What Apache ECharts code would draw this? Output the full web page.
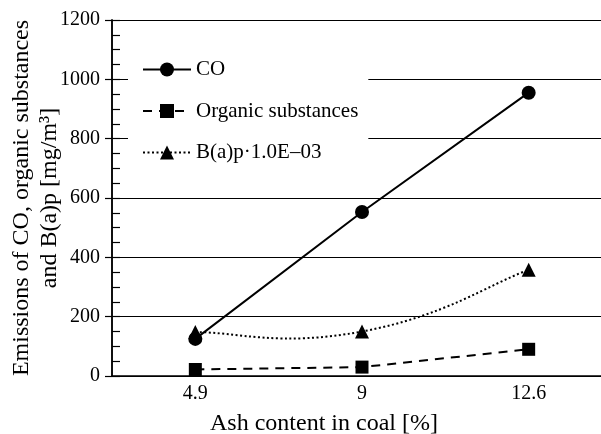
<!DOCTYPE html>
<html>
<head>
<meta charset="utf-8">
<script src="https://cdn.jsdelivr.net/npm/echarts@6/dist/echarts.min.js"></script>
<style>html,body{margin:0;padding:0;background:#fff}#c{width:601px;height:434px}</style>
</head>
<body>
<div id="c"></div>
<script>
var categories = ['4.9', '9', '12.6'];
var coValues = [125, 553, 955];
var organicValues = [22, 30, 90];
var bapValues = [148, 150, 358];
var seriesNames = ['CO', 'Organic substances', 'B(a)p\u00b71.0E\u201303'];
var yTitle = 'Emissions of CO, organic substances\nand B(a)p [mg/m\u00b3]';
var xTitle = 'Ash content in coal [%]';

var FONT = "'Liberation Serif', 'Times New Roman', serif";
var DOT = [2, 2.5];
var chart = echarts.init(document.getElementById('c'), null, {renderer: 'canvas'});

function renderBapCurve(params, api) {
  if (params.dataIndex !== 0) return null;
  var pts = bapValues.map(function (v, i) { return api.coord([i, v]); });
  var k = 0.25;
  var path = 'M' + pts[0][0] + ' ' + pts[0][1];
  for (var i = 0; i < pts.length - 1; i++) {
    var p0 = pts[i], p1 = pts[i + 1];
    var pPrev = pts[i - 1] || p0, pNext = pts[i + 2] || p1;
    var c1x = p0[0] + (p1[0] - pPrev[0]) * k, c1y = p0[1] + (p1[1] - pPrev[1]) * k;
    var c2x = p1[0] - (pNext[0] - p0[0]) * k, c2y = p1[1] - (pNext[1] - p0[1]) * k;
    path += ' C' + c1x + ' ' + c1y + ' ' + c2x + ' ' + c2y + ' ' + p1[0] + ' ' + p1[1];
  }
  return {
    type: 'path',
    shape: {pathData: path},
    style: {fill: null, stroke: '#000', lineWidth: 2, lineDash: DOT}
  };
}

chart.setOption({
  animation: false,
  backgroundColor: '#fff',
  textStyle: {fontFamily: FONT, color: '#000'},
  grid: {left: 112, top: 20, width: 500, bottom: 58, outerBoundsMode: 'none', containLabel: false},
  legend: {
    orient: 'vertical', left: 128, top: 47,
    padding: [12, 10, 14, 14],
    backgroundColor: '#fff',
    itemWidth: 48, itemHeight: 17.5, itemGap: 20.5,
    textStyle: {fontFamily: FONT, fontSize: 21, color: '#000'},
    data: [
      {name: seriesNames[0]},
      {name: seriesNames[1]},
      {name: seriesNames[2], lineStyle: {color: '#000', width: 2, type: DOT, opacity: 1}}
    ]
  },
  xAxis: {
    type: 'category', data: categories, boundaryGap: true,
    axisLine: {lineStyle: {color: '#000', width: 1.5}},
    axisTick: {inside: true, alignWithLabel: true, length: 8, lineStyle: {color: '#000', width: 1.5}},
    axisLabel: {fontFamily: FONT, fontSize: 20, color: '#000', margin: 8},
    splitLine: {show: false},
    name: xTitle, nameLocation: 'middle', nameGap: 36, nameMoveOverlap: false,
    nameTextStyle: {fontFamily: FONT, fontSize: 24, color: '#000', padding: [0, 76, 0, 0]}
  },
  yAxis: [{
    type: 'value', min: 0, max: 1200, interval: 200,
    axisLine: {show: true, lineStyle: {color: '#000', width: 1.5}},
    axisTick: {show: true, inside: false, length: 7, lineStyle: {color: '#000', width: 1.2}},
    axisLabel: {fontFamily: FONT, fontSize: 20, color: '#000', margin: 12,
      formatter: function (v) { return String(v); }},
    splitLine: {show: true, lineStyle: {color: '#000', width: 1.2}},
    name: yTitle, nameLocation: 'middle', nameRotate: 90, nameGap: 48, nameMoveOverlap: false,
    nameTextStyle: {fontFamily: FONT, fontSize: 24, color: '#000', lineHeight: 28, align: 'center'}
  }, {
    type: 'value', min: 0, max: 1200, interval: 50, position: 'left',
    axisLine: {show: true, lineStyle: {color: '#000', width: 1.5}},
    axisTick: {show: true, inside: true, length: 8, lineStyle: {color: '#000', width: 1.2}},
    axisLabel: {show: false},
    splitLine: {show: false}
  }],
  series: [{
    name: seriesNames[0], type: 'line', data: coValues,
    symbol: 'circle', symbolSize: 14,
    lineStyle: {color: '#000', width: 2, type: 'solid'},
    itemStyle: {color: '#000'}
  }, {
    name: seriesNames[1], type: 'line', data: organicValues,
    symbol: 'rect', symbolSize: 13,
    lineStyle: {color: '#000', width: 2, type: [9, 7]},
    itemStyle: {color: '#000'}
  }, {
    name: 'bapCurve', type: 'custom', z: 2,
    data: bapValues.map(function (v, i) { return [i, v]; }),
    renderItem: renderBapCurve,
    silent: true
  }, {
    name: seriesNames[2], type: 'line', data: bapValues, z: 3,
    symbol: 'triangle', symbolSize: 14,
    lineStyle: {color: '#000', width: 2, type: DOT, opacity: 0},
    itemStyle: {color: '#000'}
  }]
});
</script>
</body>
</html>
